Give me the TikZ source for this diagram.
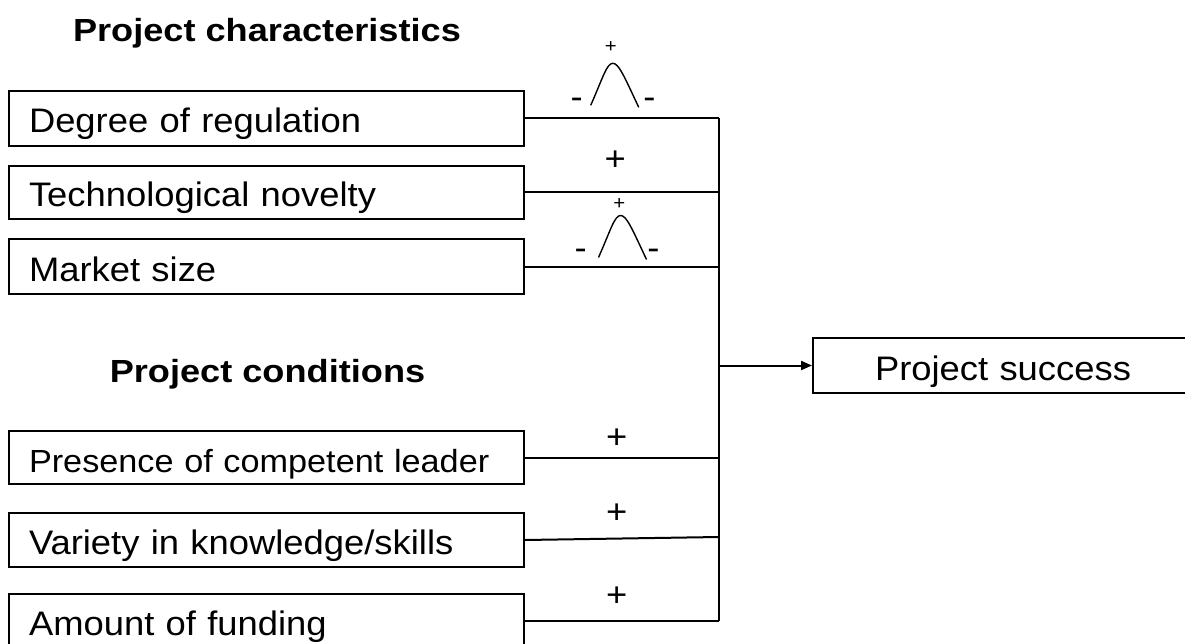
\documentclass[tikz,border=0pt]{standalone}
\usepackage{fontspec}
\setmainfont{Liberation Sans}
\newfontfamily\labelfont[FakeStretch=1.07]{Liberation Sans}
\newfontfamily\headfont[FakeStretch=1.13]{Liberation Sans Bold}
\usetikzlibrary{arrows.meta}
\begin{document}
\begin{tikzpicture}[x=1pt,y=-1pt,
  factor/.style={draw, line width=2pt, anchor=north west,
    text width=475pt, inner xsep=20pt, inner ysep=0pt, align=left,
    text height=31pt, text depth=2pt,
    font=\labelfont\fontsize{34}{37}\selectfont},
  outcome/.style={factor, text width=340pt, align=center},
  head/.style={anchor=base, inner sep=0pt,
    font=\headfont\fontsize{32}{35}\selectfont},
  sign/.style={anchor=base, inner sep=0pt,
    font=\labelfont\fontsize{34}{37}\selectfont},
  smallsign/.style={anchor=base, inner sep=0pt,
    font=\labelfont\fontsize{19}{21}\selectfont},
  wire/.style={line width=2pt},
  bell/.pic={\draw[line width=1.4pt] (-22,42) .. controls (-10,15) and (-6,0) .. (0,0)
    .. controls (6,0) and (11,12) .. (26,44);}
]
\useasboundingbox (0,0) rectangle (1185,644);
\clip (0,0) rectangle (1185,644);

% group headings
\node[head] (hchar) at (267,42) {Project characteristics};
\node[head] (hcond) at (267.5,382) {Project conditions};

% project characteristics
\node[factor, minimum height=55pt] (b1) at (8,90)  {Degree of regulation};
\node[factor, minimum height=53pt] (b2) at (8,165) {Technological novelty};
\node[factor, minimum height=55pt] (b3) at (8,238) {Market size};

% project conditions
\node[factor, minimum height=53pt, font=\labelfont\fontsize{32}{35}\selectfont]
  (b4) at (8,430) {Presence of competent leader};
\node[factor, minimum height=54pt] (b5) at (8,512) {Variety in knowledge/skills};
\node[factor, minimum height=54pt] (b6) at (8,593) {Amount of funding};

% outcome
\node[outcome, minimum height=55pt] (ps) at (812,337) {Project success};

% collecting bus
\coordinate (bus) at (719,0);
\coordinate (b5end) at (719,537);
\draw[wire] (b1.east) -- (b1.east -| bus);
\draw[wire] (b2.east) -- (b2.east -| bus);
\draw[wire] (b3.east) -- (b3.east -| bus);
\draw[wire] (b4.east) -- (b4.east -| bus);
\draw[wire] (b5.east) -- (b5end);
\draw[wire] (b6.east) -- (b6.east -| bus);
\draw[wire] (bus |- b1.east) -- (bus |- b6.east);
\draw[wire, -{Triangle[length=11pt,width=9pt]}] (bus |- ps.west) -- (ps.west);

% inverted-U effects
\pic at (612.7,63.3) {bell};
\node[smallsign] (u1p) at (610.7,52.4) {+};
\node[sign] (u1l) at (576.7,108.4) {-};
\node[sign] (u1r) at (649.3,108.4) {-};

\pic at (620.5,215.5) {bell};
\node[smallsign] (u3p) at (619.3,210) {+};
\node[sign] (u3l) at (580.7,259.1) {-};
\node[sign] (u3r) at (653.3,259.1) {-};

% positive effects
\node[sign] (s2) at (615.3,171) {+};
\node[sign] (s4) at (616.7,448.4) {+};
\node[sign] (s5) at (616.7,523.4) {+};
\node[sign] (s6) at (616.7,606) {+};
\end{tikzpicture}
\end{document}
